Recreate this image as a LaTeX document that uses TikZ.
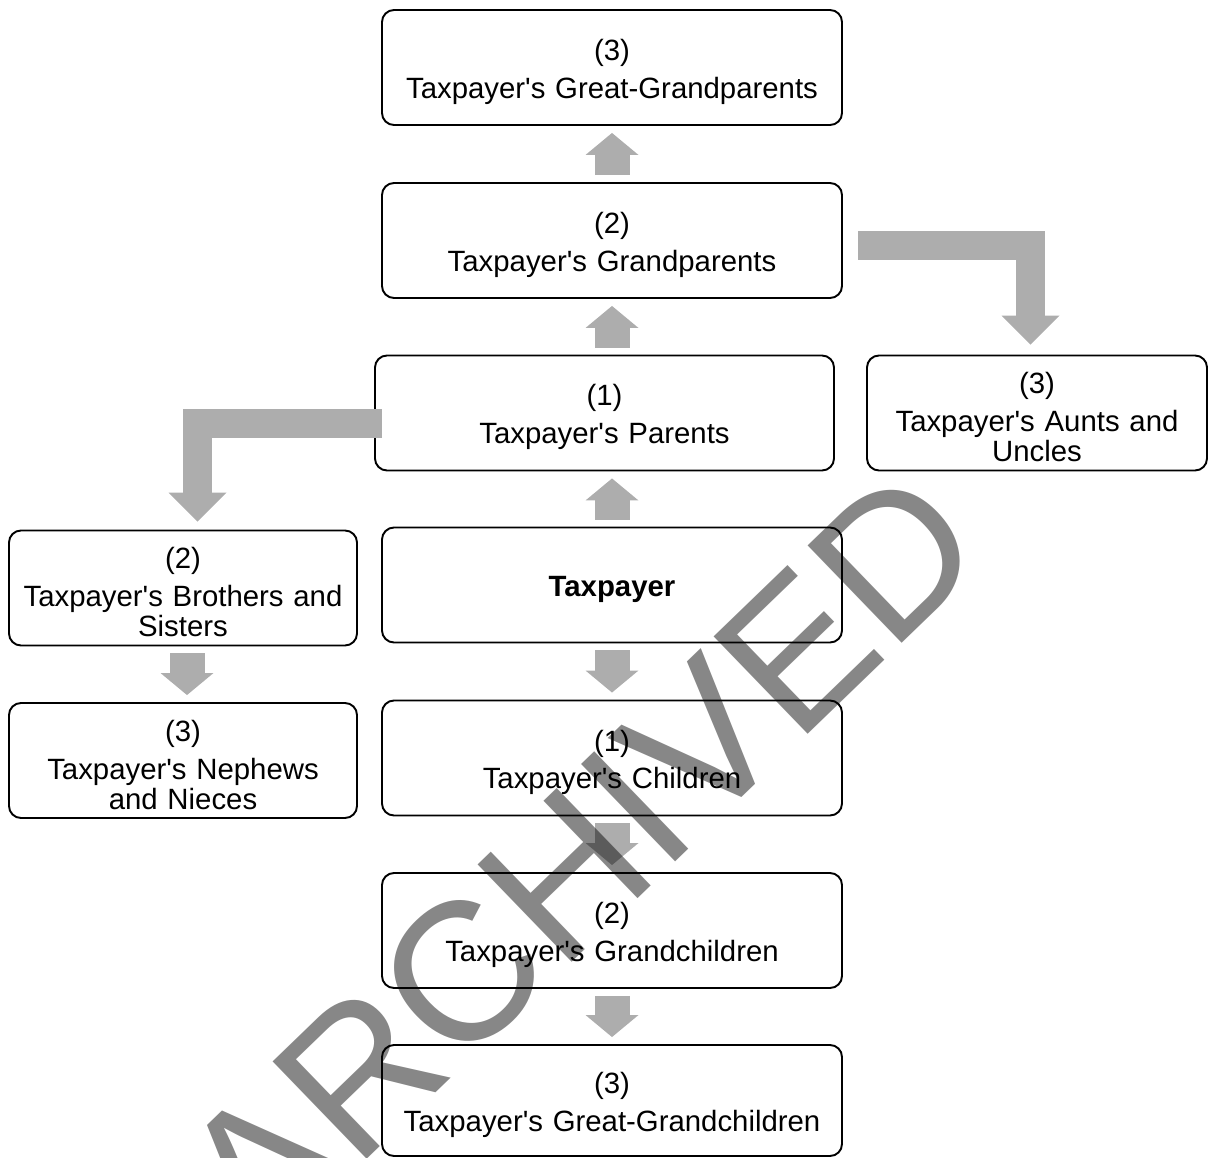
\documentclass[tikz,border=0pt]{standalone}
\usepackage{fontspec}
\setmainfont{Liberation Sans}
\usepackage{tikz}
\usetikzlibrary{positioning,arrows.meta,calc}

\definecolor{arrowgray}{RGB}{173,173,173}

\tikzset{
  box/.style = {draw, line width=1.1pt, rounded corners=0.24cm, minimum width=9.2cm,
    minimum height=2.3cm, text width=8.6cm, align=center, inner sep=0pt,
    font=\fontsize{16.7}{17}\selectfont, execute at begin node=\rule{0pt}{17pt}},
  sidebox/.style = {box, minimum width=6.96cm, text width=6.8cm},
  blk/.style = {arrowgray, line width=0.7cm,
    -{Triangle[width=1.06cm 0 0, length=0.44cm 0 0, line width=0pt 0 0]},
    shorten <=0.14cm, shorten >=0.14cm},
  elbow/.style = {arrowgray, line width=0.58cm, line join=miter,
    -{Triangle[width=1.16cm 0 0, length=0.58cm 0 0, line width=0pt 0 0]}}
}

\begin{document}
\begin{tikzpicture}

\useasboundingbox (0,0) rectangle (24.16,-23.16);

\node[box] (ggp) at (12.24,-1.35) {(3)\\[4.5pt]Taxpayer\textquotesingle s Great-Grandparents};
\node[box] (gp) at (12.24,-4.81) {(2)\\[4.5pt]Taxpayer\textquotesingle s Grandparents};
\node[box, minimum width=9.18cm] (par) at (12.09,-8.26) {(1)\\[4.5pt]Taxpayer\textquotesingle s Parents};
\node[sidebox, minimum width=6.74cm] (aunt) at (20.74,-8.26) {(3)\\[4.5pt]Taxpayer\textquotesingle s Aunts and\\Uncles};
\node[sidebox] (bro) at (3.66,-11.76) {(2)\\[4.5pt]Taxpayer\textquotesingle s Brothers and\\Sisters};
\node[box, font=\fontsize{16.7}{17}\selectfont\bfseries] (tax) at (12.24,-11.7) {Taxpayer};
\node[sidebox] (nep) at (3.66,-15.21) {(3)\\[4.5pt]Taxpayer\textquotesingle s Nephews\\and Nieces};
\node[box] (chi) at (12.24,-15.16) {(1)\\[4.5pt]Taxpayer\textquotesingle s Children};
\node[box] (gc) at (12.24,-18.61) {(2)\\[4.5pt]Taxpayer\textquotesingle s Grandchildren};
\node[box, minimum height=2.22cm] (ggc) at (12.24,-22.01) {(3)\\[4.5pt]Taxpayer\textquotesingle s Great-Grandchildren};

% ancestors
\draw[blk] (tax.north) -- (tax.north |- par.south);
\draw[blk] (gp.south |- par.north) -- (gp.south);
\draw[blk] (gp.north) -- (ggp.south);

% descendants
\draw[blk] (tax.south) -- (chi.north);
\draw[blk] (chi.south) -- (gc.north);
\draw[blk] (gc.south) -- (ggc.north);

% side lines
\draw[elbow] ($(gp.east)+(0.3,-0.1)$) -| ($(aunt.north)+(-0.13,0.2)$);
\draw[elbow] ($(par.west)+(0.16,-0.21)$) -| ($(bro.north)+(0.29,0.16)$);
\draw[blk] ($(bro.south)+(0.08,0)$) -- ($(nep.north)+(0.08,0)$);

\node[rotate=44, inner sep=0pt, text=black, text opacity=0.47,
  font=\fontsize{112}{112}\selectfont] (stamp) at (11.6,-17.2) {ARCHIVED};

\end{tikzpicture}
\end{document}
